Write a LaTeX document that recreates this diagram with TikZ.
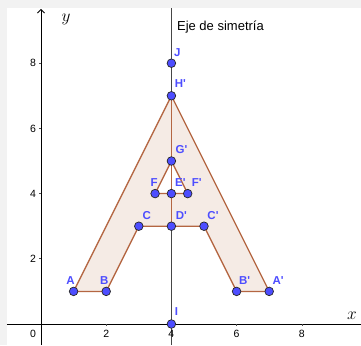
\documentclass[tikz,border=0pt]{standalone}
\usepackage{fontspec}
\newfontfamily\ggb{Liberation Sans}
\usetikzlibrary{calc,arrows.meta}
\definecolor{ptblue}{RGB}{77,77,255}
\definecolor{edgebrown}{RGB}{180,102,66}
\definecolor{fillpink}{RGB}{245,235,229}
\definecolor{margingray}{RGB}{242,242,242}
\definecolor{symgray}{RGB}{70,70,70}
\pgfdeclarelayer{background}
\pgfsetlayers{background,main}
\begin{document}
\begin{tikzpicture}[x=32.6pt,y=32.6pt,
  dot/.style={circle,draw=black!85,fill=ptblue,line width=0.7pt,minimum size=8.6pt,inner sep=0pt},
  lbl/.style={text=ptblue,font=\ggb\bfseries\fontsize{11.5}{13}\selectfont,inner sep=0pt},
  ticklbl/.style={font=\ggb\fontsize{10.5}{12}\selectfont,inner sep=0pt},
  edge/.style={draw=edgebrown,line width=1.3pt,line join=round},
  axisline/.style={draw=black,line width=0.8pt},
  symline/.style={draw=symgray,line width=1.2pt},
  tickmark/.style={draw=black!70,line width=0.6pt}]
\useasboundingbox (-41pt,-21pt) rectangle (320pt,324pt);
% points
\node[dot] (A)  at (1,1) {};
\node[dot] (B)  at (2,1) {};
\node[dot] (C)  at (3,3) {};
\node[dot] (Dp) at (4,3) {};
\node[dot] (Cp) at (5,3) {};
\node[dot] (Bp) at (6,1) {};
\node[dot] (Ap) at (7,1) {};
\node[dot] (Hp) at (4,7) {};
\node[dot] (Gp) at (4,5) {};
\node[dot] (Ep) at (4,4) {};
\node[dot] (F)  at (3.5,4) {};
\node[dot] (Fp) at (4.5,4) {};
\node[dot] (J)  at (4,8) {};
\node[dot] (I)  at (4,0) {};
% point labels
\node[lbl] (lA)  at ($(A)+(-3pt,11pt)$) {A};
\node[lbl] (lB)  at ($(B)+(-2pt,11pt)$) {B};
\node[lbl] (lC)  at ($(C)+(8pt,11pt)$) {C};
\node[lbl] (lDp) at ($(Dp)+(10pt,11pt)$) {D'};
\node[lbl] (lCp) at ($(Cp)+(9pt,11pt)$) {C'};
\node[lbl] (lBp) at ($(Bp)+(8pt,11pt)$) {B'};
\node[lbl] (lAp) at ($(Ap)+(9pt,11pt)$) {A'};
\node[lbl] (lHp) at ($(Hp)+(9pt,12pt)$) {H'};
\node[lbl] (lGp) at ($(Gp)+(10pt,11pt)$) {G'};
\node[lbl] (lEp) at ($(Ep)+(9pt,11pt)$) {E'};
\node[lbl] (lF)  at ($(F)+(-1pt,11pt)$) {F};
\node[lbl] (lFp) at ($(Fp)+(9pt,11pt)$) {F'};
\node[lbl] (lJ)  at ($(J)+(6pt,11pt)$) {J};
\node[lbl] (lI)  at ($(I)+(5pt,12pt)$) {I};
% axes coordinates
\coordinate (O) at (0,0);
\coordinate (xl) at (-34pt,0);
\coordinate (xr) at (320pt,0);
\coordinate (yb) at (0,-21pt);
\coordinate (yt) at (0,315pt);
\coordinate (symtop) at ([yshift=316pt]I.center);
\coordinate (symbot) at ([yshift=-21pt]I.center);
% axis labels and ticks
\node[inner sep=0pt] (xlab) at (311pt,8pt) {\fontsize{18}{20}\selectfont$x$};
\node[inner sep=0pt] (ylab) at (25pt,305pt) {\fontsize{18}{20}\selectfont$y$};
\node[ticklbl] (t0) at (-8pt,-10pt) {0};
\foreach \v in {2,4,6,8}{
  \node[ticklbl] (tx\v) at ($(\v,0)+(0,-10pt)$) {\v};
  \node[ticklbl] (ty\v) at ($(0,\v)+(-8pt,0)$) {\v};
}
\node[font=\ggb\fontsize{13}{15}\selectfont,anchor=west,inner sep=0pt] (eje) at ($(I.center)+(5.5pt,297pt)$) {Eje de simetría};
\begin{pgfonlayer}{background}
  \fill[margingray] (-41pt,-21pt) rectangle (-34pt,324pt);
  \fill[margingray] (-41pt,316pt) rectangle (320pt,324pt);
  \fill[fillpink,even odd rule] (A.center)--(Hp.center)--(Ap.center)--(Bp.center)--(Cp.center)--(C.center)--(B.center)--cycle
     (F.center)--(Gp.center)--(Fp.center)--cycle;
  \draw[axisline] (xl)--(xr);
  \draw[axisline,-{Straight Barb[length=3.5pt,width=7pt]}] (yb)--(yt);
  \foreach \v in {2,4,6,8}{
    \draw[tickmark] (\v,0) -- ++(0,-2pt);
    \draw[tickmark] (0,\v) -- ++(-2pt,0);
  }
  \draw[symline] (symbot)--(symtop);
  \draw[edge] (A.center)--(Hp.center)--(Ap.center)--(Bp.center)--(Cp.center)--(Dp.center)--(C.center)--(B.center)--cycle;
  \draw[edge] (F.center)--(Gp.center)--(Fp.center)--(Ep.center)--cycle;
  \draw[edge] (Dp.center)--(Hp.center);
\end{pgfonlayer}
\end{tikzpicture}
\end{document}
